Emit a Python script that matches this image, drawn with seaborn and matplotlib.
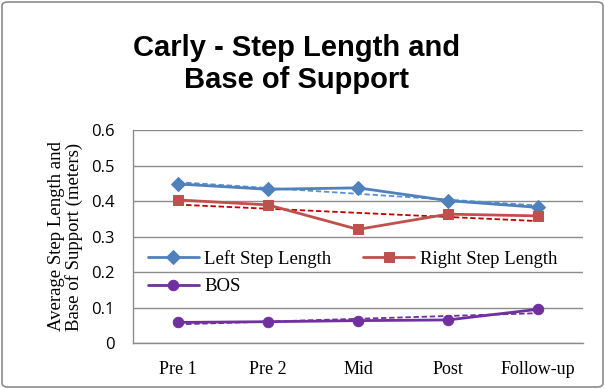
import numpy as np
import pandas as pd
import matplotlib
matplotlib.use("Agg")
import matplotlib.pyplot as plt
import seaborn as sns
from matplotlib.patches import FancyBboxPatch

categories = ["Pre 1", "Pre 2", "Mid", "Post", "Follow-up"]
left_step = [0.448, 0.433, 0.437, 0.401, 0.382]
right_step = [0.403, 0.389, 0.320, 0.363, 0.358]
bos = [0.058, 0.060, 0.063, 0.065, 0.095]
y_ticks = [0, 0.1, 0.2, 0.3, 0.4, 0.5, 0.6]
y_tick_labels = ["0", "0.1", "0.2", "0.3", "0.4", "0.5", "0.6"]

sns.set_style("white")
plt.rcParams["text.color"] = "black"
plt.rcParams["xtick.color"] = "black"
plt.rcParams["ytick.color"] = "black"
plt.rcParams["axes.labelcolor"] = "black"
fig = plt.figure(figsize=(6.05, 3.89), dpi=100)
ax = fig.add_axes([133/605, 1-343/389, 450/605, 213/389])

x = np.arange(len(categories))
series = [
    ("Left Step Length", left_step, "#4F81BD", "D", 7, "#5B8FD6"),
    ("Right Step Length", right_step, "#C0504D", "s", 7.5, "#C00000"),
    ("BOS", bos, "#7030A0", "o", 7.5, "#7030A0"),
]
df = pd.DataFrame({"x": np.tile(x, 3),
                   "value": left_step + right_step + bos,
                   "series": sum([[s[0]] * len(x) for s in series], [])})

for name, vals, col, mk, ms, tcol in series:
    d = df[df.series == name]
    coef = np.polyfit(d.x, d.value, 1)
    ax.plot(x, np.polyval(coef, x), color=tcol, lw=1.3, ls=(0, (3, 1.5)), zorder=3)
for name, vals, col, mk, ms, tcol in series:
    d = df[df.series == name]
    sns.lineplot(data=d, x="x", y="value", ax=ax, color=col, marker=mk,
                 markersize=ms, markeredgecolor=col, lw=2, label=name, zorder=4)

ax.set_xlim(-0.5, 4.5)
ax.set_ylim(0, 0.6)
ax.set_yticks(y_ticks)
ax.set_yticklabels(y_tick_labels, fontfamily="Open Sans", fontsize=12)
ax.set_xticks(x)
ax.set_xticklabels(categories, fontfamily="Liberation Serif", fontsize=13)
ax.tick_params(axis="x", length=0, pad=13, colors="black")
ax.tick_params(axis="y", length=0, pad=13, colors="black")
ax.grid(axis="y", color="#8c8c8c", lw=1)
ax.set_axisbelow(True)
for s in ["top", "right"]:
    ax.spines[s].set_visible(False)
for s in ["left", "bottom"]:
    ax.spines[s].set_color("#8c8c8c")
    ax.spines[s].set_linewidth(1)
ax.set_xlabel("")
ax.set_ylabel("Average Step Length and\nBase of Support (meters)",
              fontfamily="Liberation Serif", fontsize=13.5, linespacing=1.0,
              labelpad=6, color="black")

handles, labels = ax.get_legend_handles_labels()
order = [0, 2, 1]
leg = ax.legend([handles[i] for i in order], [labels[i] for i in order],
                loc="upper left", bbox_to_anchor=(148/605, 1-250/389),
                bbox_transform=fig.transFigure, ncol=2, frameon=False,
                prop={"family": "Liberation Serif", "size": 13.5},
                handlelength=2.7, columnspacing=1.7, handletextpad=0.3,
                labelspacing=0.55, borderaxespad=0, borderpad=0)
for t in leg.get_texts():
    t.set_color("black")

fig.text(297/605, 1-64/389, "Carly - Step Length and\nBase of Support",
         ha="center", va="center", fontfamily="Liberation Sans",
         fontweight="bold", fontsize=21, linespacing=1.2, color="black")

border = FancyBboxPatch((2/605, 2/389), 1-4/605, 1-4/389,
                        boxstyle="round,pad=0,rounding_size=0.01",
                        transform=fig.transFigure, fill=False,
                        edgecolor="#8c8c8c", lw=1.2)
fig.patches.append(border)

fig.savefig("out.png", dpi=100)
